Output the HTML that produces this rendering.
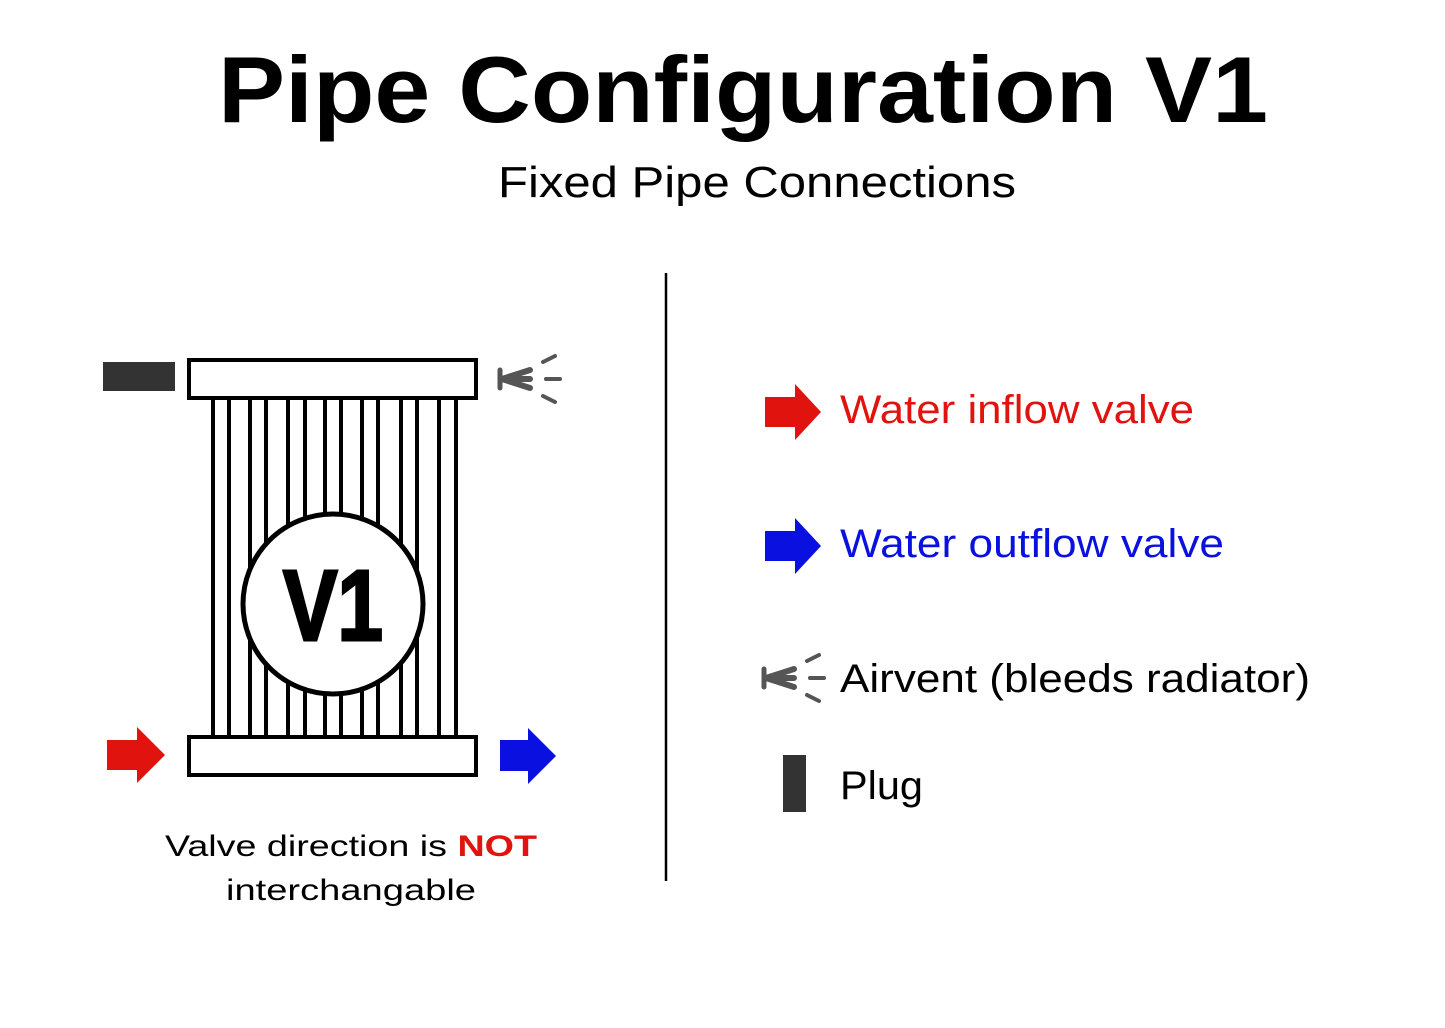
<!DOCTYPE html>
<html><head><style>html,body{margin:0;padding:0;background:#fff;}svg{display:block}</style></head>
<body>
<svg width="1445" height="1028" viewBox="0 0 1445 1028" xmlns="http://www.w3.org/2000/svg" font-family="Liberation Sans, sans-serif">
<rect width="1445" height="1028" fill="#fff"/>
<text x="218" y="122" font-size="94" font-weight="bold" textLength="1050" lengthAdjust="spacingAndGlyphs">Pipe Configuration V1</text>
<text x="498" y="197" font-size="44" textLength="518" lengthAdjust="spacingAndGlyphs">Fixed Pipe Connections</text>
<line x1="666" y1="273" x2="666" y2="881" stroke="#000" stroke-width="2.5"/>

<g stroke="#000" stroke-width="4">
<line x1="213" y1="398" x2="213" y2="737"/>
<line x1="229" y1="398" x2="229" y2="737"/>
<line x1="250" y1="398" x2="250" y2="737"/>
<line x1="266" y1="398" x2="266" y2="737"/>
<line x1="288" y1="398" x2="288" y2="737"/>
<line x1="305" y1="398" x2="305" y2="737"/>
<line x1="325" y1="398" x2="325" y2="737"/>
<line x1="341" y1="398" x2="341" y2="737"/>
<line x1="362" y1="398" x2="362" y2="737"/>
<line x1="378" y1="398" x2="378" y2="737"/>
<line x1="401" y1="398" x2="401" y2="737"/>
<line x1="417" y1="398" x2="417" y2="737"/>
<line x1="439" y1="398" x2="439" y2="737"/>
<line x1="456" y1="398" x2="456" y2="737"/>
</g>
<g fill="#fff" stroke="#000" stroke-width="4">
<rect x="189" y="360" width="287" height="38"/>
<rect x="189" y="737" width="287" height="38"/>
<circle cx="333" cy="604" r="90" stroke-width="5"/>
</g>
<text x="333" y="640" font-size="100" font-weight="bold" text-anchor="middle" textLength="100" lengthAdjust="spacingAndGlyphs" stroke="#000" stroke-width="3">V1</text>

<rect x="103" y="362" width="72" height="29" fill="#333"/>
<polygon points="107,740 137,740 137,727 165,755 137,783 137,770 107,770" fill="#e0130e"/>
<polygon points="500,740 528,740 528,728 556,756 528,784 528,771 500,771" fill="#0a10e0"/>

<g id="av" stroke="#555" stroke-linecap="round" fill="none">
<path d="M500 370 L500 388" stroke-width="5"/>
<path d="M502 379 L530 370 M502 379 L530 379 M502 379 L530 388" stroke-width="6"/>
<path d="M543 362 L555 356 M546 379 L560 379 M543 396 L555 402" stroke-width="4"/>
</g>

<text x="165" y="856" font-size="30" textLength="372" lengthAdjust="spacingAndGlyphs">Valve direction is <tspan fill="#e0130e" font-weight="bold">NOT</tspan></text>
<text x="226" y="900" font-size="30" textLength="250" lengthAdjust="spacingAndGlyphs">interchangable</text>

<polygon points="765,397 795,397 795,384 821,412 795,440 795,427 765,427" fill="#e0130e"/>
<text x="840" y="423" font-size="40" fill="#e0130e" textLength="354" lengthAdjust="spacingAndGlyphs">Water inflow valve</text>
<polygon points="765,531 795,531 795,518 821,546 795,574 795,561 765,561" fill="#0a10e0"/>
<text x="840" y="557" font-size="40" fill="#0a10e0" textLength="384" lengthAdjust="spacingAndGlyphs">Water outflow valve</text>
<use href="#av" transform="translate(264,299)"/>
<text x="840" y="692" font-size="40" textLength="470" lengthAdjust="spacingAndGlyphs">Airvent (bleeds radiator)</text>
<rect x="783" y="755" width="23" height="57" fill="#333"/>
<text x="840" y="799" font-size="40" textLength="83" lengthAdjust="spacingAndGlyphs">Plug</text>
</svg>
</body></html>
